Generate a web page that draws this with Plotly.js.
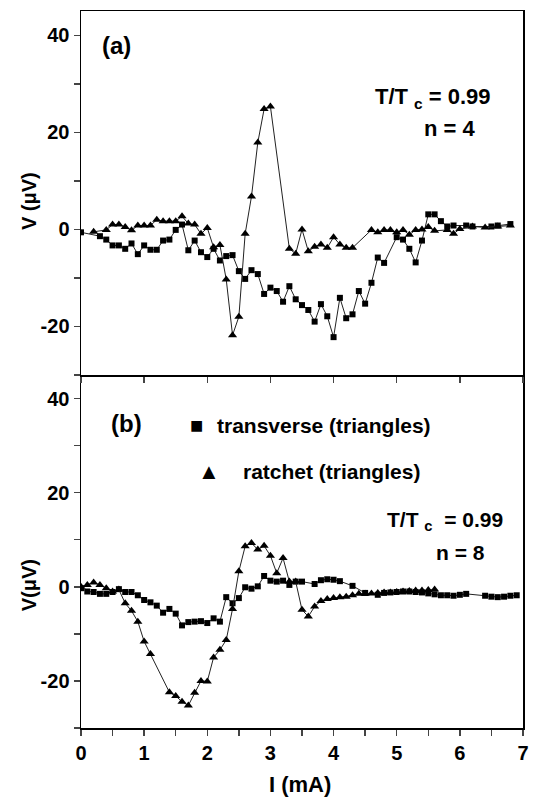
<!DOCTYPE html>
<html>
<head>
<meta charset="utf-8">
<script src="https://cdn.plot.ly/plotly-3.0.1.min.js"></script>
<style>html,body{margin:0;padding:0;background:#fff;}</style>
</head>
<body>
<div id="chart" style="width:537px;height:800px;"></div>
<script>
// Panel (a): transverse (squares)
const aSqI = [0.0,0.3,0.4,0.5,0.6,0.7,0.8,0.9,1.0,1.1,1.2,1.3,1.4,1.5,1.6,1.7,1.8,1.9,2.0,2.1,2.2,2.3,2.4,2.5,2.6,2.7,2.8,2.9,3.0,3.1,3.2,3.3,3.4,3.5,3.6,3.7,3.8,3.9,4.0,4.1,4.2,4.3,4.4,4.5,4.6,4.7,4.8,5.0,5.1,5.2,5.3,5.4,5.5,5.6,5.7,5.8,5.9,6.1,6.2,6.5,6.6,6.8];
const aSqV = [-0.6,-1.4,-2.1,-3.3,-3.3,-4.0,-2.9,-5.1,-3.3,-4.2,-4.2,-2.3,-2.1,-0.1,1.0,-4.3,-2.3,-4.7,-5.7,-4.0,-6.4,-5.5,-5.3,-8.6,-10.2,-8.4,-9.2,-13.3,-12.0,-12.7,-14.9,-11.7,-14.4,-15.6,-16.6,-19.0,-15.4,-17.9,-22.2,-14.1,-18.3,-17.5,-12.7,-15.3,-11.0,-5.8,-6.9,-1.6,-2.1,-4.0,-6.8,-2.3,3.1,3.1,1.7,0.6,0.8,0.8,0.6,0.6,0.8,1.1];
// Panel (a): ratchet (triangles)
const aTrI = [0.2,0.4,0.5,0.6,0.7,0.8,0.9,1.0,1.1,1.2,1.3,1.4,1.5,1.6,1.7,1.8,1.9,2.0,2.1,2.2,2.3,2.4,2.5,2.6,2.7,2.8,2.9,3.0,3.3,3.4,3.5,3.6,3.7,3.8,3.9,4.0,4.1,4.2,4.3,4.6,4.7,4.8,4.9,5.0,5.1,5.2,5.3,5.4,5.5,5.6,5.8,5.9,6.0,6.2,6.4,6.6,6.8];
const aTrV = [-0.5,-0.1,1.0,1.0,0.5,-0.2,0.8,0.8,0.8,2.0,1.7,1.7,1.7,2.7,1.2,1.0,-0.9,0.3,-3.7,-3.2,-10.3,-21.8,-18.0,-0.9,6.8,17.9,24.8,25.3,-4.0,-5.0,0.0,-4.5,-3.6,-3.1,-3.8,-1.6,-3.1,-3.8,-3.8,-0.1,-0.6,-0.1,-0.1,-0.6,-0.1,-1.1,-0.1,0.0,0.5,-0.3,-0.1,-0.9,0.1,0.6,0.4,0.6,0.8];
// Panel (b): transverse (squares)
const bSqI = [0.0,0.1,0.2,0.3,0.4,0.5,0.6,0.7,0.8,0.9,1.0,1.1,1.2,1.3,1.4,1.5,1.6,1.7,1.8,1.9,2.0,2.1,2.2,2.3,2.4,2.5,2.6,2.7,2.8,2.9,3.0,3.1,3.2,3.3,3.4,3.5,3.7,3.8,3.9,4.0,4.1,4.3,4.5,4.7,4.8,4.9,5.0,5.1,5.2,5.3,5.4,5.5,5.6,5.7,5.8,5.9,6.0,6.1,6.4,6.5,6.6,6.7,6.8,6.9];
const bSqV = [-0.3,-1.0,-1.1,-1.5,-1.5,-1.1,-0.5,-1.1,-1.1,-1.8,-2.8,-3.3,-4.0,-5.5,-4.7,-5.7,-8.2,-7.5,-7.4,-7.3,-7.7,-6.7,-7.4,-2.2,-3.5,-2.4,-0.1,-0.4,0.1,2.3,1.3,1.1,1.3,0.4,1.1,1.1,0.6,1.4,1.6,1.5,1.2,0.2,-1.3,-1.7,-1.3,-1.2,-1.1,-1.0,-1.0,-1.1,-1.2,-1.4,-1.6,-1.8,-1.8,-1.9,-1.7,-1.5,-1.9,-2.1,-2.2,-2.1,-1.9,-1.8];
// Panel (b): ratchet (triangles)
const bTrI = [0.0,0.1,0.2,0.3,0.4,0.5,0.6,0.7,0.8,0.9,1.0,1.1,1.4,1.5,1.6,1.7,1.8,1.9,2.0,2.1,2.2,2.3,2.4,2.5,2.6,2.7,2.8,2.9,3.0,3.1,3.2,3.3,3.4,3.5,3.6,3.7,3.8,3.9,4.0,4.1,4.2,4.3,4.4,4.5,4.6,4.7,4.8,4.9,5.0,5.1,5.2,5.3,5.4,5.5,5.6];
const bTrV = [0.0,0.4,0.9,0.4,-0.3,-1.0,-0.6,-3.5,-5.1,-7.4,-11.6,-14.3,-22.4,-23.2,-24.4,-25.2,-22.5,-20.0,-20.1,-15.0,-13.4,-11.3,-4.7,3.3,8.6,9.3,7.9,8.7,6.6,2.9,6.1,1.1,1.1,-4.9,-6.3,-4.2,-3.0,-2.6,-2.4,-2.2,-2.1,-1.8,-1.5,-1.5,-1.4,-1.3,-1.2,-1.2,-1.1,-1.0,-0.9,-0.8,-0.8,-0.7,-0.6];

const xTickVals = [0,1,2,3,4,5,6,7];
const xTickText = ['0','1','2','3','4','5','6','7'];
const yTickVals = [-20,0,20,40];
const yTickText = ['-20','0','20','40'];

const FONT = 'Liberation Sans, Arial, Helvetica, sans-serif';
const lineStyle = {color:'#222', width:1};

const traces = [
  {x:aSqI, y:aSqV, xaxis:'x2', yaxis:'y', mode:'lines+markers', line:lineStyle,
   marker:{symbol:'square', size:6, color:'#000'}, name:'transverse'},
  {x:aTrI, y:aTrV, xaxis:'x2', yaxis:'y', mode:'lines+markers', line:lineStyle,
   marker:{symbol:'triangle-up', size:8, color:'#000'}, name:'ratchet'},
  {x:bSqI, y:bSqV, xaxis:'x', yaxis:'y2', mode:'lines+markers', line:lineStyle,
   marker:{symbol:'square', size:6, color:'#000'}, name:'transverse'},
  {x:bTrI, y:bTrV, xaxis:'x', yaxis:'y2', mode:'lines+markers', line:lineStyle,
   marker:{symbol:'triangle-up', size:8, color:'#000'}, name:'ratchet'}
];

const tickFont = {family:FONT, size:20, color:'#000', weight:'bold'};
const split = 353/717;

const yCommon = {
  range:[-30,45], tickvals:yTickVals, ticktext:yTickText, ticks:'outside', ticklen:6, tickwidth:1.5,
  minor:{tickvals:[-30,-10,10,30], ticks:'outside', ticklen:6, tickwidth:1.5},
  showline:true, linewidth:1.5, linecolor:'#000', mirror:true, showgrid:false, zeroline:false,
  tickfont:tickFont, fixedrange:true
};

const layout = {
  width:537, height:800,
  margin:{l:81, r:14, t:11, b:72},
  paper_bgcolor:'#fff', plot_bgcolor:'#fff',
  showlegend:false,
  font:{family:FONT, color:'#000'},
  xaxis:{domain:[0,1], anchor:'y2', range:[0,7], tickvals:xTickVals, ticktext:xTickText,
    ticks:'outside', ticklen:6, tickwidth:1.5,
    minor:{dtick:0.5, ticks:'outside', ticklen:6, tickwidth:1.5},
    showline:true, linewidth:1.5, linecolor:'#000', mirror:false, showgrid:false, zeroline:false,
    tickfont:tickFont},
  xaxis2:{domain:[0,1], anchor:'y', range:[0,7], dtick:1, tick0:0, ticks:'outside', ticklen:6, tickwidth:1.5,
    showticklabels:false, showline:true, linewidth:1.5, linecolor:'#000', mirror:true,
    showgrid:false, zeroline:false},
  yaxis:Object.assign({}, yCommon, {domain:[split,1], anchor:'x2'}),
  yaxis2:Object.assign({}, yCommon, {domain:[0,split], anchor:'x'}),
  annotations:[
    {text:'<b>(a)</b>', xref:'x2', yref:'y', x:0.57, y:37.8, showarrow:false, font:{size:24}, xanchor:'center', yanchor:'middle'},
    {text:'<b>T/T <sub>c</sub> = 0.99</b>', xref:'x2', yref:'y', x:6.52, y:27.1, showarrow:false, font:{size:22}, xanchor:'right', yanchor:'middle'},
    {text:'<b>n = 4</b>', xref:'x2', yref:'y', x:6.29, y:20.7, showarrow:false, font:{size:22}, xanchor:'right', yanchor:'middle'},
    {text:'<b>(b)</b>', xref:'x', yref:'y2', x:0.72, y:34.6, showarrow:false, font:{size:24}, xanchor:'center', yanchor:'middle'},
    {text:'■', xref:'x', yref:'y2', x:1.83, y:34.3, showarrow:false, font:{size:22}, xanchor:'center', yanchor:'middle'},
    {text:'<b>transverse (triangles)</b>', xref:'x', yref:'y2', x:2.12, y:34.3, showarrow:false, font:{size:21}, xanchor:'left', yanchor:'middle'},
    {text:'▲', xref:'x', yref:'y2', x:2.02, y:24.4, showarrow:false, font:{size:22}, xanchor:'center', yanchor:'middle'},
    {text:'<b>ratchet (triangles)</b>', xref:'x', yref:'y2', x:2.53, y:24.4, showarrow:false, font:{size:21}, xanchor:'left', yanchor:'middle'},
    {text:'<b>T/T <sub>c</sub>&nbsp; = 0.99</b>', xref:'x', yref:'y2', x:6.72, y:14.0, showarrow:false, font:{size:21}, xanchor:'right', yanchor:'middle'},
    {text:'<b>n = 8</b>', xref:'x', yref:'y2', x:6.43, y:7.3, showarrow:false, font:{size:21}, xanchor:'right', yanchor:'middle'},
    {text:'<b>V (μV)</b>', xref:'paper', yref:'paper', x:-0.1176, y:0.735, textangle:-90, showarrow:false, font:{size:20}, xanchor:'center', yanchor:'middle'},
    {text:'<b>V(μV)</b>', xref:'paper', yref:'paper', x:-0.1176, y:0.199, textangle:-90, showarrow:false, font:{size:20}, xanchor:'center', yanchor:'middle'},
    {text:'<b>I (mA)</b>', xref:'paper', yref:'paper', x:(300-81)/442, y:-(784-728)/717, showarrow:false, font:{size:22}, xanchor:'center', yanchor:'middle'}
  ]
};

Plotly.newPlot('chart', traces, layout, {displayModeBar:false, staticPlot:true});
</script>
</body>
</html>
